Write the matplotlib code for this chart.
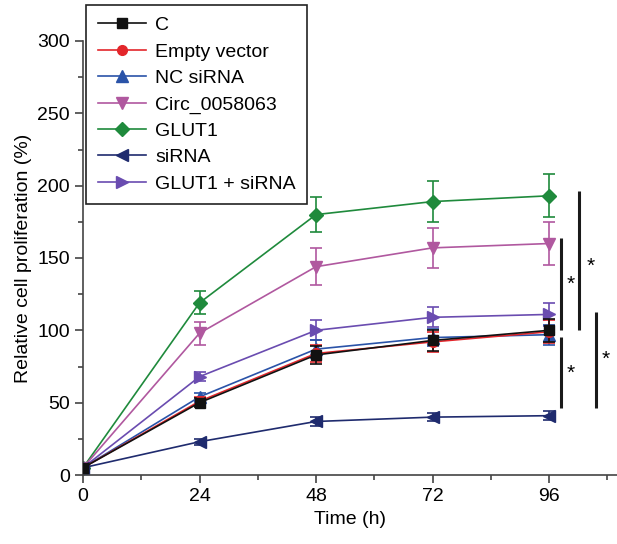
import matplotlib
matplotlib.use("Agg")
import matplotlib.pyplot as plt
from matplotlib.ticker import MultipleLocator
from matplotlib.lines import Line2D

plt.rcParams['font.family'] = ['Liberation Sans', 'DejaVu Sans']

time_h = [0, 24, 48, 72, 96]
labels = ["C", "Empty vector", "NC siRNA", "Circ_0058063", "GLUT1", "siRNA", "GLUT1 + siRNA"]
c_vals = [5, 50, 83, 93, 100]
c_err = [1, 3, 6, 7, 8]
empty_vals = [5, 51, 84, 92, 99]
empty_err = [1, 3, 6, 7, 8]
nc_vals = [5, 54, 87, 95, 97]
nc_err = [1, 3, 6, 6, 7]
circ_vals = [5, 98, 144, 157, 160]
circ_err = [1, 8, 13, 14, 15]
glut1_vals = [5, 119, 180, 189, 193]
glut1_err = [1, 8, 12, 14, 15]
sirna_vals = [5, 23, 37, 40, 41]
sirna_err = [1, 2, 3, 3, 3]
glut_si_vals = [5, 68, 100, 109, 111]
glut_si_err = [1, 3, 7, 7, 8]

series = [c_vals, empty_vals, nc_vals, circ_vals, glut1_vals, sirna_vals, glut_si_vals]
errors = [c_err, empty_err, nc_err, circ_err, glut1_err, sirna_err, glut_si_err]
colors = ["#111111", "#e3262b", "#2a53a8", "#b0589f", "#1f8a3c", "#1f2b6e", "#6a4cb0"]
markers = ["s", "o", "^", "v", "D", "<", ">"]
msizes = [7, 7, 8, 9, 7, 8, 8]

# significance brackets
sig_x = [98.5, 102.2, 98.5, 105.7]
sig_lo = [100, 100, 46, 46]
sig_hi = [164, 196, 95.5, 113]
star_x = [100.4, 104.5, 100.4, 107.7]
star_y = [132, 144, 70, 80]

fig = plt.figure(figsize=(6.17, 5.44), dpi=100)
ax = fig.add_axes([83/617, 69/544, 534/617, 434/544])

order = [4, 3, 6, 2, 5, 1, 0]
handles = []
for i in range(len(series)):
    ax.errorbar(time_h, series[i], yerr=errors[i], color=colors[i], marker=markers[i],
                markersize=msizes[i], linewidth=1.2, elinewidth=1.2, capsize=4,
                capthick=1.2, zorder=2 + order.index(i) * 0.1)
    handles.append(Line2D([], [], color=colors[i], marker=markers[i],
                          markersize=msizes[i], linewidth=1.2))

for i in range(len(sig_x)):
    ax.plot([sig_x[i], sig_x[i]], [sig_lo[i], sig_hi[i]], color="#1a1a1a", linewidth=2.2,
            clip_on=False, solid_capstyle="butt")
    ax.text(star_x[i], star_y[i], "*", fontsize=15, ha="center", va="center")

ax.set_xlim(0, 110)
ax.set_ylim(0, 300)
ax.set_xticks([0, 24, 48, 72, 96])
ax.xaxis.set_minor_locator(MultipleLocator(12))
ax.set_yticks([0, 50, 100, 150, 200, 250, 300])
ax.yaxis.set_minor_locator(MultipleLocator(25))
ax.spines['top'].set_visible(False)
ax.spines['right'].set_visible(False)
for s in ['left', 'bottom']:
    ax.spines[s].set_color("#444444")
    ax.spines[s].set_linewidth(1.2)
ax.tick_params(axis='both', which='major', length=6, width=1.2, color="#444444",
               labelsize=14, direction='out')
ax.tick_params(axis='both', which='minor', length=3.5, width=1.2, color="#444444",
               direction='out')
ax.set_xlabel("Time (h)", fontsize=14)
ax.set_ylabel("Relative cell proliferation (%)", fontsize=14)

leg = fig.legend(handles, labels, loc="upper left", bbox_to_anchor=(86/617, 1 - 5/544),
                 borderaxespad=0, fontsize=14, frameon=True, fancybox=False, framealpha=1,
                 edgecolor="#222222", handlelength=2.5, labelspacing=0.45,
                 borderpad=0.6, handletextpad=0.45)
leg.get_frame().set_linewidth(1.2)

fig.savefig("out.png", dpi=100)
